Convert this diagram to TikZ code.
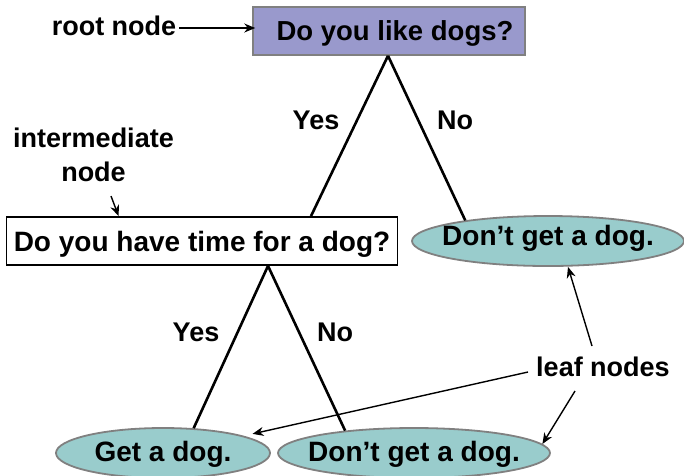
\documentclass[tikz,border=0pt]{standalone}
\usepackage{fontspec}
\setmainfont{Liberation Sans}
\usetikzlibrary{arrows.meta,shapes.geometric}
\definecolor{rootfill}{HTML}{9999CC}
\definecolor{leaffill}{HTML}{99CCCC}
\definecolor{edgegray}{HTML}{808080}
\begin{document}
\begin{tikzpicture}[x=1pt,y=-1pt,
  txt/.style={font=\fontsize{28}{34}\selectfont\bfseries, inner sep=0pt},
  lbl/.style={font=\fontsize{27}{34}\selectfont\bfseries, inner sep=0pt, align=center},
  rootbox/.style={txt, draw=edgegray, line width=1.5pt, fill=rootfill, minimum width=272pt, minimum height=48pt, text depth=0pt},
  qbox/.style={txt, draw=black, line width=1.8pt, fill=white, minimum width=391pt, minimum height=48pt, text depth=0pt},
  leaf/.style={txt, ellipse, draw=edgegray, line width=1.8pt, fill=leaffill, minimum height=50pt, text height=20pt, text depth=12pt},
  lowleaf/.style={leaf, text depth=4pt},
  branch/.style={line width=2.6pt},
  pointer/.style={line width=1.4pt, -{Stealth[length=11pt,width=9pt]}},
]
\useasboundingbox (0,0) rectangle (684,475);
% tree nodes
\node[rootbox] (root) at (389,31) {\fontsize{27.5}{34}\selectfont\hspace*{12pt}Do you like dogs?};
\node[qbox] (inter) at (202,241) {Do you have time for a dog?};
\node[leaf, minimum width=272pt] (dright) at (548,241) {\makebox[0pt]{Don’t get a dog.}};
\node[lowleaf, minimum width=214pt] (gleft) at (163,453) {\makebox[0pt]{Get a dog.}};
\node[lowleaf, minimum width=272pt] (dbot) at (414,453) {\makebox[0pt]{Don’t get a dog.}};
% branches
\draw[branch] ([xshift=-1pt]root.south) -- ([xshift=109pt]inter.north);
\draw[branch] ([xshift=-1pt]root.south) -- (dright.166);
\draw[branch] ([xshift=66pt]inter.south) -- (gleft.39);
\draw[branch] ([xshift=66pt]inter.south) -- (dbot.162);
% branch labels
\node[lbl] (y1) at (316,120) {Yes};
\node[lbl] (n1) at (455,120) {No};
\node[lbl] (y2) at (196,332) {Yes};
\node[lbl] (n2) at (335,332) {No};
% annotations
\node[lbl] (rootlbl) at (114,26) {root node};
\draw[pointer] ([xshift=3pt,yshift=-2pt]rootlbl.east) -- ([xshift=3pt,yshift=-2pt]rootlbl.east -| root.west);
\node[lbl] (interlbl) at (93.5,155) {intermediate\\node};
\coordinate (intertail) at (111,196);
\draw[pointer] (intertail) -- ([xshift=113pt]inter.north west);
\node[lbl] (leaflbl) at (603,367) {leaf nodes};
\coordinate (leafa) at (592,346);
\coordinate (leafb) at (528,372);
\coordinate (leafc) at (575,391);
\draw[pointer] (leafa) -- ([xshift=20pt]dright.south);
\draw[pointer, shorten >=9pt] (leafb) -- (gleft.12);
\draw[pointer] (leafc) -- (dbot.4);
\end{tikzpicture}
\end{document}
